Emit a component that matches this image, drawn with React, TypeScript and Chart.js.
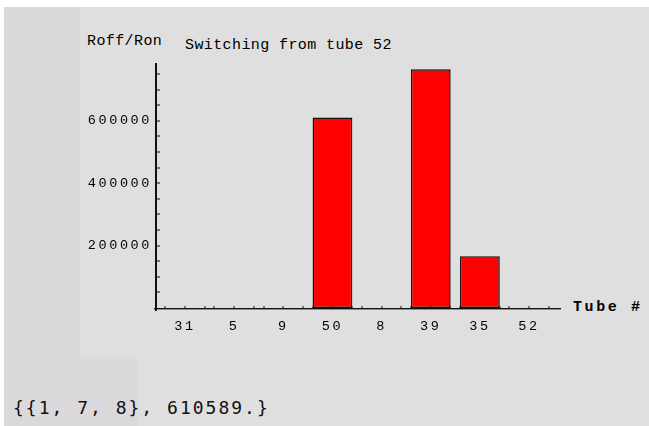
import React, { useEffect, useRef } from "react";
import { Chart, registerables } from "chart.js";

Chart.register(...registerables);

const categories = ["31", "5", "9", "50", "8", "39", "35", "52"];
const values = [0, 0, 0, 610589, 0, 765000, 166000, 0];
const yMajorTicks = [200000, 400000, 600000];
const yMinorTicks = [
  50000, 100000, 150000, 200000, 250000, 300000, 350000, 400000,
  450000, 500000, 550000, 600000, 650000, 700000, 750000,
];
const xTickOffsets = [-0.4, 0, 0.4];
const titleText = "Switching from tube 52";
const yAxisTitle = "Roff/Ron";
const xAxisTitle = "Tube #";
const resultText = "{{1, 7, 8}, 610589.}";

const LABEL_FONT = "'Liberation Mono', 'DejaVu Sans Mono', monospace";

const axesPlugin = {
  id: "mmaAxes",
  beforeDraw(chart: any) {
    chart.ctx.letterSpacing = "2.6px";
  },
  beforeDatasetsDraw(chart: any) {
    const { ctx, scales } = chart;
    const x = scales.x;
    const y = scales.y;
    ctx.save();
    ctx.fillStyle = "#111";
    for (const v of yMinorTicks) {
      const p = y.getPixelForValue(v);
      ctx.fillRect(x.left + 1, Math.round(p) - 0.5, 3, 1);
    }
    categories.forEach((_, i) => {
      for (const o of xTickOffsets) {
        const p = x.getPixelForValue(i + o);
        ctx.fillRect(Math.round(p) - 0.5, y.bottom - 2, 1, 2);
      }
    });
    ctx.restore();
  },
  afterDatasetsDraw(chart: any) {
    const { ctx, scales } = chart;
    const x = scales.x;
    const y = scales.y;
    ctx.save();
    ctx.fillStyle = "#111";
    ctx.fillRect(x.left - 1, y.top, 2, y.bottom - y.top + 3);
    ctx.fillRect(x.left - 2, y.bottom, x.right - x.left + 2, 1.4);
    ctx.restore();
  },
};

function ChartCanvas() {
  const ref = useRef<HTMLCanvasElement | null>(null);
  useEffect(() => {
    if (!ref.current) return;
    const chart = new Chart(ref.current, {
      type: "bar",
      data: {
        datasets: [
          {
            data: values.map((v, i) => ({ x: i, y: v })),
            backgroundColor: "#ff0000",
            borderColor: "#111",
            borderWidth: 1.5,
            borderSkipped: false,
            barPercentage: 0.81,
            categoryPercentage: 1,
          },
        ],
      },
      options: {
        animation: false,
        responsive: false,
        maintainAspectRatio: false,
        events: [],
        layout: { padding: { left: 0, top: 63, right: 88, bottom: 88 } },
        plugins: {
          legend: { display: false },
          tooltip: { enabled: false },
          title: { display: false },
        },
        scales: {
          x: {
            type: "linear",
            offset: false,
            min: -0.59,
            max: 7.65,
            afterBuildTicks: (s: any) => {
              s.ticks = categories.map((_, i) => ({ value: i }));
            },
            afterFit: (s: any) => {
              s.height = 30;
            },
            ticks: {
              callback: (v: any) => categories[Math.round(Number(v))] ?? "",
              font: { family: LABEL_FONT, size: 13.5 },
              color: "#000",
              padding: 10,
              maxRotation: 0,
              autoSkip: false,
            },
            grid: { display: false, drawTicks: false },
            border: { display: false },
          },
          y: {
            min: 0,
            max: 785000,
            afterBuildTicks: (s: any) => {
              s.ticks = yMajorTicks.map((v) => ({ value: v }));
            },
            afterFit: (s: any) => {
              s.width = 156;
            },
            ticks: {
              callback: (v: any) => String(v),
              font: { family: LABEL_FONT, size: 13.5 },
              color: "#000",
              padding: 4,
            },
            grid: { display: false, drawTicks: false },
            border: { display: false },
          },
        },
      },
      plugins: [axesPlugin],
    } as any);
    return () => chart.destroy();
  }, []);
  return (
    <canvas
      ref={ref}
      width={649}
      height={426}
      style={{ position: "absolute", left: 0, top: 0, width: 649, height: 426 }}
    />
  );
}

const textBase: React.CSSProperties = {
  position: "absolute",
  whiteSpace: "pre",
  color: "#000",
  fontFamily: LABEL_FONT,
  margin: 0,
};

export default function App() {
  return (
    <div
      style={{
        position: "absolute",
        left: 0,
        top: 0,
        width: 649,
        height: 426,
        background: "#ffffff",
        overflow: "hidden",
      }}
    >
      <div style={{ position: "absolute", left: 4, top: 7, width: 645, height: 419, background: "#dfdfdf" }} />
      <div style={{ position: "absolute", left: 4, top: 7, width: 76, height: 419, background: "#dbd9dc" }} />
      <div style={{ position: "absolute", left: 80, top: 357, width: 57, height: 69, background: "#dbd9dc" }} />
      <div style={{ ...textBase, left: 87, top: 34, fontSize: 15, lineHeight: "15px", letterSpacing: 0.4 }}>
        {yAxisTitle}
      </div>
      <div style={{ ...textBase, left: 185, top: 38, fontSize: 15, lineHeight: "15px", letterSpacing: 0.4 }}>
        {titleText}
      </div>
      <div style={{ ...textBase, left: 573, top: 300, fontSize: 15, lineHeight: "15px", letterSpacing: 2.6, fontWeight: "bold" }}>
        {xAxisTitle}
      </div>
      <div
        style={{
          ...textBase,
          left: 13,
          top: 399,
          fontSize: 18,
          lineHeight: "18px",
          letterSpacing: 2,
          color: "#111",
          fontFamily: "'DejaVu Sans Mono', monospace",
        }}
      >
        {resultText}
      </div>
      <ChartCanvas />
    </div>
  );
}
